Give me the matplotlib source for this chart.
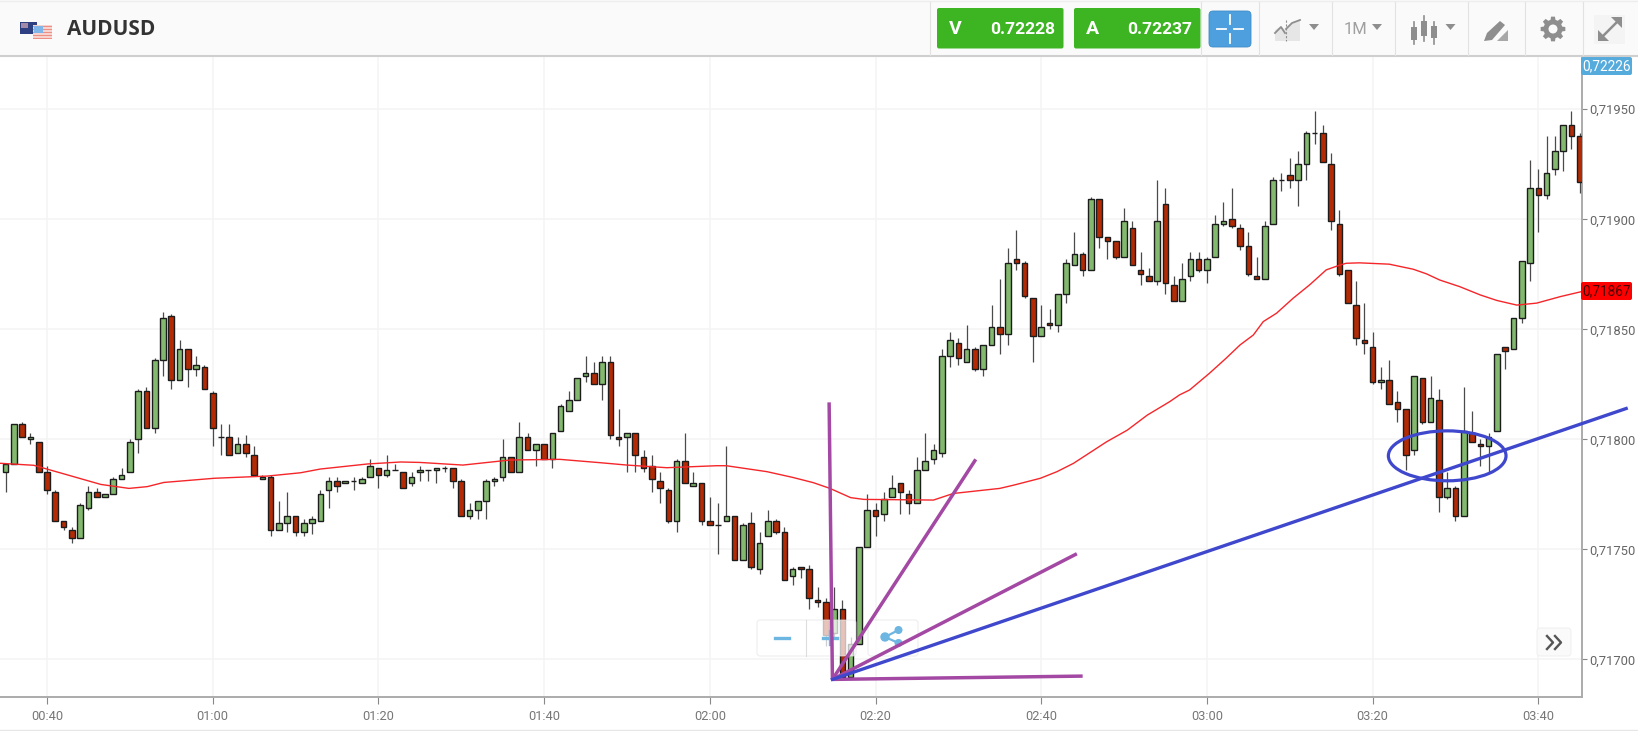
import numpy as np
import matplotlib
matplotlib.use('Agg')
import matplotlib.pyplot as plt
from matplotlib.patches import Rectangle, FancyBboxPatch, Ellipse, Polygon, Circle

# candles are 1 minute, values are points above 0.71700
first_minute = 35
opens = [85,89,107,100,99, 85,76,63,59,55, 69,76,74,75,82, 85,100,122,105,136,
         156,127,141,132,133, 121,101,101,94,98, 93,82,83,59,62, 65,58,62,63,77,
         81,80,81,80,83, 87,84,86,85,80, 85,86,86,87,87, 81,65,68,72,81,
         83,92,85,101,95, 98,91,104,113,118, 129,130,125,135,101, 101,103,92,88,81,
         77,63,90,79,80, 63,61,63,65,45, 62,41,56,63,58, 38,42,41,27,26,
         12,23,-8,7,51, 68,66,74,80,75, 71,86,91,94,138, 144,135,141,132,143,
         151,148,182,180,164, 147,153,152,166,179, 184,177,209,192,190, 183,196,177,174,172,
         207,170,163,174,182, 177,183,198,200,196, 188,174,173,198,218, 220,218,225,239,239,
         225,198,177,161,145, 142,126,127,117,114, 95,128,108,118,74, 78,65,103,98,97,
         104,142,141,155,180, 214,211,223,231,243, 238]
closes = [89,107,101,101,85, 77,63,60,55,70, 76,74,75,82,84, 99,122,105,136,155,
          127,141,132,134,123, 105,101,93,98,94, 84,83,59,62,65, 58,62,64,75,81,
          79,81,81,82,88, 84,86,86,78,83, 86,86,87,87,81, 65,68,72,81,82,
          92,85,101,95,98, 91,103,115,118,128, 130,125,135,102,100, 103,93,87,82,78,
          63,90,80,80,63, 61,61,65,45,61, 42,53,63,58,36, 41,41,28,26,11,
          23,-8,7,51,68, 65,73,78,76,71, 86,90,95,138,145, 137,141,132,143,151,
          148,180,180,165,147, 151,152,166,180,184, 177,209,192,190,183, 199,179,175,172,199,
          171,163,173,182,177, 182,198,199,197,188, 175,173,197,218,218, 218,225,239,239,226,
          199,175,162,146,144, 126,127,116,114,93, 129,108,119,74,78, 65,104,99,97,101,
          139,140,155,181,214, 211,221,231,243,238, 217]
highs = [89,107,108,103,99, 88,77,63,60,71, 79,78,75,83,87, 100,123,124,137,158,
         157,145,141,138,134, 122,107,107,101,102, 97,84,84,72,76, 65,64,65,77,83,
         83,81,83,83,91, 87,93,89,85,85, 88,86,87,88,87, 82,71,72,82,83,
         100,92,108,103,98, 98,103,116,122,128, 138,135,138,138,114, 103,103,95,93,85,
         78,91,103,85,80, 74,71,97,65,62, 67,58,68,64,60, 42,42,43,33,28,
         33,27,10,51,75, 71,76,84,80,77, 92,103,98,141,149, 146,152,142,143,161,
         173,187,195,181,164, 161,159,166,182,194, 185,210,209,192,190, 205,199,185,178,218,
         214,174,180,185,185, 183,202,208,214,198, 194,183,199,219,221, 228,231,240,249,243,
         230,204,177,172,162, 149,133,136,122,114, 129,128,129,123,85, 79,124,113,100,103,
         139,142,155,181,227, 223,238,238,243,249, 239]
lows = [76,89,101,98,85, 75,63,59,53,55, 68,74,74,75,82, 85,94,105,103,129,
        123,127,124,129,123, 97,93,93,94,92, 84,82,56,59,58, 56,56,57,63,69,
        76,80,77,80,83, 78,83,86,78,79, 81,81,80,85,78, 65,64,64,64,79,
        81,85,85,95,88, 91,87,104,113,118, 126,125,118,100,97, 85,85,85,76,71,
        62,58,80,79,61, 61,48,63,45,45, 41,39,56,57,36, 34,37,23,24,6,
        10,-8,-8,7,51, 56,63,74,66,66, 71,86,89,92,133, 134,135,131,129,143,
        139,143,177,164,135, 147,150,149,162,179, 174,177,187,182,182, 183,179,170,172,170,
        166,163,163,172,176, 171,183,197,196,186, 174,173,173,198,213, 214,206,218,234,226,
        195,174,162,143,139, 125,123,116,108,86, 93,107,108,67,73, 63,65,99,88,85,
        104,132,141,153,172, 194,209,220,222,232, 212]

# moving average, read at irregular minutes
ma_minutes = [34.4,38.4,42.5,46.5,49.9,52.1,54.1,60.2,66.6,70.6,73,78.7,82.7,85,90.2,95.9,
              101.9,106.7,110,114.8,120.8,122,126.9,130,132.5,134.5,137,138.6,147,149.4,155,
              156.7,159.9,161.9,163.9,167.9,170.4,172.8,175.5,176.7,177.9,180.3,182.3,184,185.6,
              186.8,188.4,190.4,192.4,194.4,195.9,196.8,198.4,202,
              204.9,206.5,208.1,210.5,213,215,217.4,219.8,222.7,225.3]
ma_values = [89.1,88.2,83.8,79.5,77.7,78.5,80.4,82.3,83.3,84.8,86.5,88.8,89.7,89.5,88.3,90.6,
             90.9,89.4,88.3,87.1,88,88,85.3,82.7,80.3,77.7,73.5,72.7,72.4,75.4,77.7,
             79.2,82.3,85.3,89.1,98.9,104.2,111,117.1,120.2,122.4,130,136.8,142.9,147.4,
             153.5,157.3,164.1,170.2,177,179,180,180.2,179.6,
             177.3,175.2,172.4,169.4,165.6,163.1,161,161.9,164.9,167.2]

# hand drawn lines on the chart (minute, points)
fan_origin = (134.8, -9.1)
purple_ends = [(134.4, 116.8), (152.1, 90.9), (164.3, 48), (165, -7.6)]
blue_end = (230.6, 114)
circle_center = (209, 92.5)
circle_size = (14.2, 22.7)

tick_minutes = [40, 60, 80, 100, 120, 140, 160, 180, 200, 220]
time_labels = ['00:40', '01:00', '01:20', '01:40', '02:00', '02:20', '02:40', '03:00', '03:20', '03:40']
price_ticks = [0, 50, 100, 150, 200, 250]
last_price = 0.72226
ma_price = 0.71867
bid = '0.72228'
ask = '0.72237'

base = 0.717
pt = 1e-5

plt.rcParams['font.family'] = ['Roboto', 'DejaVu Sans']
W, H = 1638, 731
fig = plt.figure(figsize=(W / 100, H / 100), dpi=100, facecolor='white')

# main chart
ax = fig.add_axes([0, (H - 697) / H, 1582 / W, (697 - 56) / H], zorder=2)
# pixel coordinates for the toolbar and the labels
ui = fig.add_axes([0, 0, 1, 1], zorder=3)
ui.set_xlim(0, W)
ui.set_ylim(H, 0)
ui.axis('off')
ui.patch.set_alpha(0)

minutes = first_minute + np.arange(len(opens))
o = base + np.array(opens) * pt
c = base + np.array(closes) * pt
h = base + np.array(highs) * pt
l = base + np.array(lows) * pt
up = c >= o

ax.vlines(minutes, l, h, color='#4A4A4A', lw=0.9, zorder=3)
ax.bar(minutes, np.abs(c - o), bottom=np.minimum(o, c), width=0.68,
       color=np.where(up, '#82B96E', '#B32A05'), edgecolor='#1c1c1c', lw=1.0, zorder=4)
ax.plot(ma_minutes, base + np.array(ma_values) * pt, color='#F5262A', lw=1.0, zorder=5)

ax.set_xlim(34.33, 225.27)
ax.set_ylim(0.716829, 0.719742)
ax.set_xticks(tick_minutes)
ax.set_xticklabels(time_labels, fontsize=9.2, color='#777777')
ax.set_yticks([base + p * pt for p in price_ticks])
ax.set_yticklabels([f'{base + p * pt:.5f}'.replace('.', ',') for p in price_ticks],
                   fontsize=9.4, color='#666666')
ax.yaxis.tick_right()
ax.tick_params(axis='x', length=5, width=0.8, color='#888888', pad=4)
ax.tick_params(axis='y', length=3.5, width=0.8, color='#888888', pad=1.5)
ax.grid(True, color='#F4F4F4', lw=1.1)
ax.set_axisbelow(True)
for side in ['top', 'left']:
    ax.spines[side].set_visible(False)
for side in ['right', 'bottom']:
    ax.spines[side].set_color('#ABABAB')
    ax.spines[side].set_linewidth(1.4)

# zoom buttons sit over the candles but under the drawn lines
px = ui.transData
for bx, bw in [(757, 99), (868, 50)]:
    ax.add_patch(FancyBboxPatch((bx, 620), bw, 36, boxstyle='round,pad=0,rounding_size=3', transform=px,
                                fc='white', ec='#E4E4E4', lw=0.7, alpha=0.72, zorder=6, clip_on=False))
ax.plot([805.5, 805.5], [620, 656], color='#DDDDDD', lw=0.8, transform=px, zorder=6)
ax.plot([775, 789], [637.5, 637.5], color='#6DB6E2', lw=2.4, transform=px, zorder=6)
ax.plot([823, 837], [637.5, 637.5], color='#6DB6E2', lw=2.4, transform=px, zorder=6)
ax.plot([830, 830], [631, 644], color='#6DB6E2', lw=2.4, transform=px, zorder=6)
ax.plot([898.5, 885, 898.5], [630, 637, 643], color='#6DB6E2', lw=1.6, transform=px, zorder=6)
for sx, sy, sr in [(898.5, 630, 3.3), (885, 637, 4), (898.5, 643, 3.3)]:
    ax.add_patch(Circle((sx, sy), sr, color='#6DB6E2', transform=px, zorder=6))

# drawn lines
for end in purple_ends:
    ax.plot([fan_origin[0], end[0]], [base + fan_origin[1] * pt, base + end[1] * pt],
            color='#A349A4', lw=2.5, zorder=7, solid_capstyle='butt')
ax.plot([fan_origin[0], blue_end[0]], [base + fan_origin[1] * pt, base + blue_end[1] * pt],
        color='#3F48CC', lw=2.4, zorder=8, clip_on=False)
ax.add_patch(Ellipse((circle_center[0], base + circle_center[1] * pt), circle_size[0], circle_size[1] * pt,
                     fill=False, ec='#3F48CC', lw=2.3, zorder=8))

# scroll button
ui.add_patch(FancyBboxPatch((1537, 628), 34, 28, boxstyle='round,pad=0,rounding_size=3', fc='#FAFAFA', ec='#EEEEEE', lw=0.6))
ui.plot([1547, 1553, 1547], [636, 642.5, 649], color='#555555', lw=1.7)
ui.plot([1555, 1561, 1555], [636, 642.5, 649], color='#555555', lw=1.7)

# price labels on the right
ui.add_patch(FancyBboxPatch((1581, 57), 51, 18, boxstyle='round,pad=0,rounding_size=2', fc='#56ABDD', ec='none'))
ui.text(1606.5, 66, f'{last_price:.5f}'.replace('.', ','), color='white', fontsize=9.8, ha='center', va='center')
ui.add_patch(FancyBboxPatch((1581, 282), 51, 18, boxstyle='round,pad=0,rounding_size=2', fc='#FF0000', ec='none'))
ui.text(1606.5, 291, f'{ma_price:.5f}'.replace('.', ','), color='#4A0000', fontsize=9.8, ha='center', va='center')

# toolbar
ui.add_patch(Rectangle((0, 0), W, 55, fc='#FAFAFA', ec='none', zorder=0))
ui.plot([0, W], [55.5, 55.5], color='#CFCFCF', lw=1.5)
ui.plot([0, W], [1, 1], color='#EEEEEE', lw=1)
ui.plot([0, W], [730, 730], color='#E6E6E6', lw=1)
for sx in [930, 1200.5, 1258.5, 1331.5, 1394.5, 1467.5, 1525, 1582.5]:
    ui.plot([sx, sx], [2, 55], color='#E2E2E2', lw=0.8)

# flags
ui.add_patch(Rectangle((20, 22), 17, 12, fc='#2E3F82', ec='none'))
ui.add_patch(Rectangle((21, 23), 7, 5, fc='#A58AA8', ec='none'))
ui.add_patch(Rectangle((33, 25), 19, 14, fc='#F7D3CF', ec='none'))
for sy in [26, 29, 32, 35, 38]:
    ui.add_patch(Rectangle((33, sy), 19, 1.3, fc='#EE8F86', ec='none'))
ui.add_patch(Rectangle((34, 26), 9, 7, fc='#7FB5E8', ec='none'))
ui.text(67, 29.5, 'AUDUSD', fontsize=15, fontweight='bold', color='#333333', va='center', family=['Open Sans', 'Roboto'])

# bid and ask
for bx, letter, value in [(937, 'V', bid), (1074, 'A', ask)]:
    ui.add_patch(FancyBboxPatch((bx, 8), 126.5, 40.5, boxstyle='round,pad=0,rounding_size=2', fc='#3DB523', ec='none'))
    ui.text(bx + 18, 29.5, letter, fontsize=14, fontweight='bold', color='white', ha='center', va='center')
    ui.text(bx + 118, 29, value, fontsize=12.5, fontweight='bold', color='white', ha='right', va='center')
ui.add_patch(FancyBboxPatch((1209, 11), 42, 36, boxstyle='round,pad=0,rounding_size=4', fc='#4E9FDD', ec='#3F8CC8', lw=0.6))
ui.plot([1217, 1226], [29, 29], color='white', lw=1.3)
ui.plot([1234, 1243], [29, 29], color='white', lw=1.3)
ui.plot([1230, 1230], [15, 24], color='white', lw=1.3)
ui.plot([1230, 1230], [34, 43], color='white', lw=1.3)

grey = '#8E8E8E'
# chart type icon
ui.add_patch(Rectangle((1275, 30), 25, 11, fc='#E6E6E6', ec='none'))
ui.add_patch(Polygon([(1275, 30), (1281, 26), (1286, 31), (1292, 23), (1300, 20), (1300, 41), (1286, 41)], fc='#E6E6E6', ec='none'))
ui.plot([1275, 1281, 1285], [33, 27, 33], color=grey, lw=1.3)
ui.plot([1286, 1292, 1300], [29, 23, 20], color=grey, lw=1.3)
ui.plot([1286, 1286], [20, 41], color=grey, lw=0.8, ls=(0, (2, 1.5)))
for tx in [1314, 1377, 1450.5]:
    ui.add_patch(Polygon([(tx - 5, 24), (tx + 5, 24), (tx, 30)], fc=grey, ec='none'))
ui.text(1355.5, 30, '1M', fontsize=12, color='#A0A0A0', ha='center', va='center')

# candle icon
for cx, y0, y1, top, bot in [(1414, 27, 40, 22, 44), (1424, 21, 36, 16, 41), (1434, 26, 38, 22, 44)]:
    ui.plot([cx, cx], [top, bot], color=grey, lw=1.2)
    ui.add_patch(Rectangle((cx - 3, y0), 6, y1 - y0, fc=grey, ec='none'))

# pencil icon
ui.add_patch(Polygon([(1484, 41), (1487, 33), (1500, 21), (1505, 25), (1492, 40)], fc=grey, ec='none'))
ui.add_patch(Polygon([(1497, 41), (1508, 30), (1508, 41)], fc='#A8A8A8', ec='none'))

# gear icon
teeth = []
for a in np.arange(0, 360, 360 / 8):
    for da, r in [(-15, 9.5), (-9, 12.5), (9, 12.5), (15, 9.5)]:
        t = np.radians(a + da)
        teeth.append((1553 + r * np.cos(t), 29 + r * np.sin(t)))
ui.add_patch(Polygon(teeth, fc=grey, ec='none'))
ui.add_patch(Circle((1553, 29), 4.5, fc='#FAFAFA', ec='none'))

# expand icon
ui.add_patch(Rectangle((1594, 15), 31, 29, fc='#F4F4F4', ec='none'))
ui.plot([1602, 1618], [37, 21], color=grey, lw=1.8)
ui.add_patch(Polygon([(1598, 41), (1598, 30), (1609, 41)], fc=grey, ec='none'))
ui.add_patch(Polygon([(1622, 17), (1622, 28), (1611, 17)], fc=grey, ec='none'))

fig.savefig('out.png', dpi=100)
